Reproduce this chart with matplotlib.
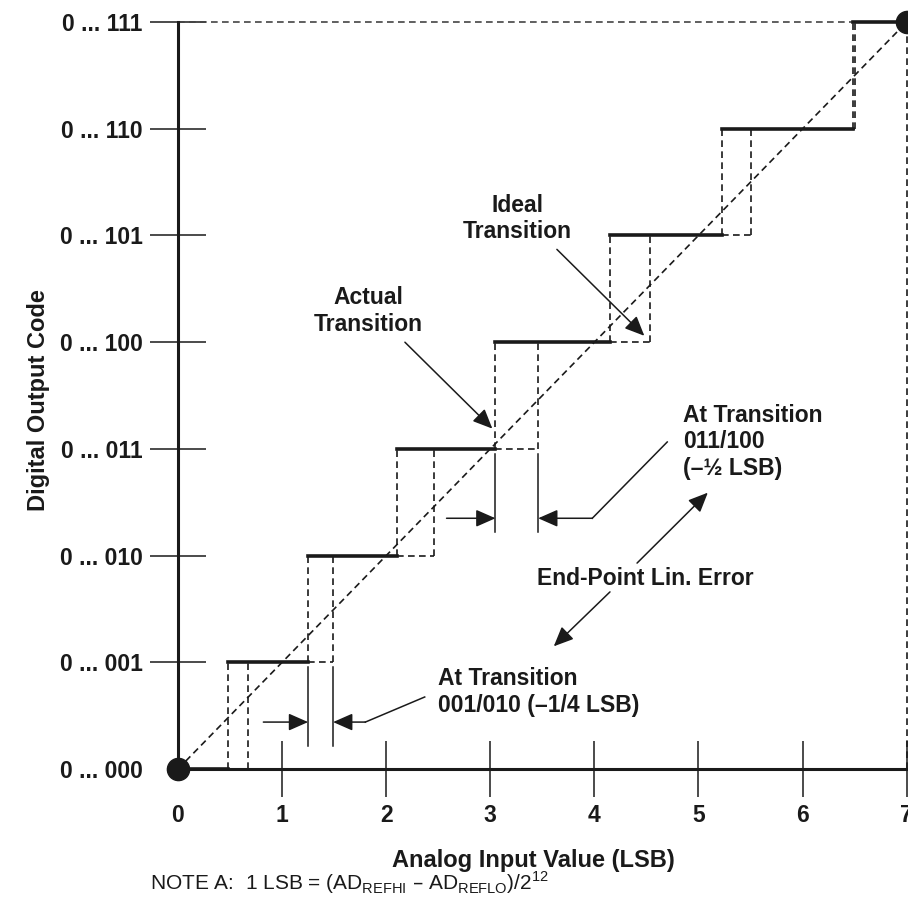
import matplotlib.pyplot as plt

plt.rcParams['font.family'] = ['Liberation Sans', 'DejaVu Sans']

# x axis: analog input in LSB, y axis: output code index
analog_ticks = [0, 1, 2, 3, 4, 5, 6, 7]
codes = [0, 1, 2, 3, 4, 5, 6, 7]
code_labels = ['0 ... 000', '0 ... 001', '0 ... 010', '0 ... 011',
               '0 ... 100', '0 ... 101', '0 ... 110', '0 ... 111']

# where each code starts on the actual (bold) transfer curve
actual_start = [0.0, 0.48, 1.25, 2.10, 3.05, 4.15, 5.23, 6.48]
# right-hand dashed edge of each transition k-1 -> k
ideal_edge = [0.67, 1.49, 2.46, 3.46, 4.53, 5.50, 6.50]
full_scale = 7

ink = '#1a1a1a'
dash = (0, (4, 2.6))

fig = plt.figure(figsize=(9.08, 9.15), dpi=100)
ax = fig.add_axes([0, 0, 1, 1])
ax.set_xlim(-1.71, 7.013)
ax.set_ylim(-1.368, 7.207)

# end-point line and the full-scale frame
ax.plot([0, full_scale], [0, full_scale], ls=dash, lw=1.2, color=ink)
ax.plot([0, actual_start[-1]], [full_scale, full_scale], ls=dash, lw=1.2, color='#444')
ax.plot([full_scale, full_scale], [0, full_scale], ls=dash, lw=1.2, color=ink, clip_on=False)

# dashed transition boxes
for k in range(1, len(codes)):
    lo = actual_start[k]
    hi = ideal_edge[k - 1]
    ax.plot([lo, lo], [k - 1, k], ls=dash, lw=1.2, color=ink)
    ax.plot([hi, hi], [k - 1, k], ls=dash, lw=1.2, color=ink)
    ax.plot([lo, hi], [k - 1, k - 1], ls=dash, lw=1.2, color=ink)

# actual transfer function (bold steps)
ends = actual_start[1:] + [full_scale]
for k in codes:
    ax.plot([actual_start[k], ends[k]], [k, k], lw=2.6, color=ink,
            solid_capstyle='projecting', zorder=3)

ax.plot([0, full_scale], [0, full_scale], 'o', ms=16, color=ink, clip_on=False, zorder=5)

# axes through the origin
for side in ['top', 'right']:
    ax.spines[side].set_visible(False)
ax.spines['left'].set_position(('data', 0))
ax.spines['bottom'].set_position(('data', 0))
ax.spines['left'].set_bounds(0, full_scale)
ax.spines['bottom'].set_bounds(0, 7.013)
for side in ['left', 'bottom']:
    ax.spines[side].set_linewidth(2.2)
    ax.spines[side].set_color(ink)

ax.set_xticks(analog_ticks)
ax.set_xticklabels([str(v) for v in analog_ticks])
ax.set_yticks(codes)
ax.set_yticklabels(code_labels)
ax.tick_params(direction='inout', length=41, width=1.1, color=ink, pad=5,
               labelsize=16.5)
for lab in ax.get_xticklabels() + ax.get_yticklabels():
    lab.set_fontweight('bold')
    lab.set_color(ink)
ax.xaxis.get_major_ticks()[0].tick1line.set_visible(False)
ax.yaxis.get_major_ticks()[0].tick1line.set_visible(False)

ax.set_xlabel('Analog Input Value (LSB)', fontsize=17, fontweight='bold', color=ink, va='center')
ax.xaxis.set_label_coords(0.587, 0.060)
ax.set_ylabel('Digital Output Code', fontsize=17, fontweight='bold', color=ink, va='center')
ax.yaxis.set_label_coords(0.042, 0.563)

arrow = dict(arrowstyle='-|>,head_length=0.5,head_width=0.22', mutation_scale=24,
             color=ink, lw=1.1, shrinkA=0, shrinkB=0)


def dimension(x_a, x_b, y_lo, y_hi, y_arr, x_in, x_out, leader_end):
    ax.plot([x_a, x_a], [y_lo, y_hi], lw=1.1, color=ink)
    ax.plot([x_b, x_b], [y_lo, y_hi], lw=1.1, color=ink)
    ax.annotate('', xy=(x_a, y_arr), xytext=(x_in, y_arr), arrowprops=arrow)
    ax.annotate('', xy=(x_b, y_arr), xytext=(x_out, y_arr), arrowprops=arrow)
    ax.plot([x_out, leader_end[0]], [y_arr, leader_end[1]], lw=1.1, color=ink)


# 001/010 and 011/100 transition errors
dimension(actual_start[2], ideal_edge[1], 0.216, 0.956, 0.44, 0.82, 1.80, (2.37, 0.675))
dimension(actual_start[4], ideal_edge[3], 2.22, 2.95, 2.35, 2.58, 3.98, (4.70, 3.065))

txt = dict(fontsize=16.5, fontweight='bold', color=ink)
ax.text(2.50, 0.72, 'At Transition\n001/010 (–1/4 LSB)', ha='left', va='center', **txt)
ax.text(4.85, 3.065, 'At Transition\n011/100\n(–½ LSB)', ha='left', va='center', **txt)
ax.text(1.825, 4.29, 'Actual\nTransition', ha='center', va='center', **txt)
ax.text(3.26, 5.16, 'Ideal\nTransition', ha='center', va='center', **txt)
ax.text(4.49, 1.79, 'End-Point Lin. Error', ha='center', va='center', **txt)

ax.annotate('', xy=(3.02, 3.19), xytext=(2.18, 4.00), arrowprops=arrow)
ax.annotate('', xy=(4.48, 4.06), xytext=(3.64, 4.87), arrowprops=arrow)
ax.annotate('', xy=(5.09, 2.59), xytext=(4.41, 1.93), arrowprops=arrow)
ax.annotate('', xy=(3.61, 1.15), xytext=(4.15, 1.66), arrowprops=arrow)

ax.text(-0.27, -1.134,
        r'NOTE A:  1 LSB = (AD$_{\mathregular{REFHI}}$ – AD$_{\mathregular{REFLO}}$)/2$^{\mathregular{12}}$',
        fontsize=15, color=ink, ha='left', va='baseline')

fig.savefig('out.png', dpi=100)
